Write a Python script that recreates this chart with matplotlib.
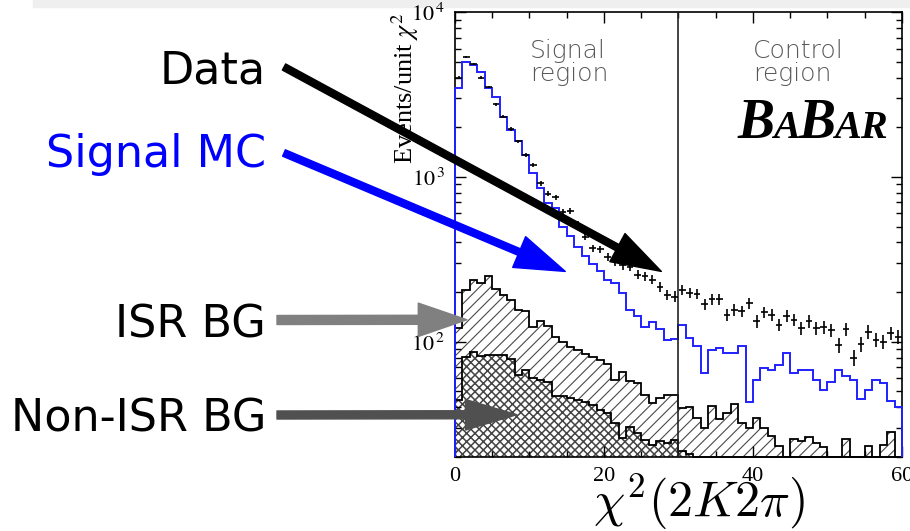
import numpy as np
import matplotlib
matplotlib.use("Agg")
import matplotlib.pyplot as plt
from matplotlib.patches import Rectangle
from matplotlib.ticker import LogLocator, NullFormatter

plt.rcParams['font.family'] = 'serif'
plt.rcParams['font.serif'] = ['Liberation Serif', 'DejaVu Serif']
plt.rcParams['mathtext.fontset'] = 'stix'

# chi2(2K2pi) distribution, 60 bins of one unit
edges = np.arange(0, 61, 1)
centres = edges[:-1] + 0.5

data_counts = [4000, 5310, 4840, 4000, 3500, 2760, 2320, 1950, 1640, 1360,
               1180, 916, 789, 753, 614, 622, 520, 433, 369, 364,
               327, 307, 291, 285, 255, 249, 238, 216, 193, 188,
               207, 197, 195, 169, 181, 181, 146, 156, 153, 172,
               133, 151, 146, 127, 144, 136, 121, 133, 121, 123,
               118, 95, 119, 80, 97, 115, 103, 100, 113, 107]

signal_mc = [3450, 5000, 4770, 4350, 3450, 3070, 2320, 1930, 1640, 1360,
             1050, 855, 693, 646, 500, 435, 378, 329, 297, 269,
             238, 228, 198, 156, 144, 123, 131, 120, 103, 104,
             127, 105, 93.7, 64.6, 88.5, 91.6, 85.4, 85.4, 94.6, 42.9,
             58.9, 69.3, 67.0, 72.5, 85.4, 64.6, 67.0, 67.0, 58.2, 50.7,
             56.6, 67.0, 62.2, 58.9, 45.2, 51.2, 58.9, 56.2, 43.5, 40.2]

isr_bg = [121, 205, 236, 228, 251, 209, 193, 179, 156, 154,
          123, 133, 125, 107, 100, 92.9, 88.5, 84.6, 80.8, 77.8,
          73.6, 58.5, 65.2, 57.5, 56.5, 47.7, 42.5, 45.6, 47.7, 47.7,
          39.6, 40.2, 34.5, 30.0, 41.0, 34.0, 37.0, 42.1, 32.2, 30.0,
          34.5, 30.0, 26.9, 23.2, 0, 25.7, 24.9, 26.4, 24.3, 23.0,
          0, 0, 25.7, 0, 0, 23.4, 0, 23.8, 28.2, 0]

non_isr_bg = [44.5, 80.5, 87.0, 81.7, 82.8, 83.4, 83.4, 78.9, 63.1, 67.6,
              60.3, 58.9, 56.6, 46.6, 46.6, 45.8, 44.5, 42.9, 41.5, 38.7,
              37.1, 32.2, 26.1, 30.4, 28.0, 25.5, 23.8, 24.9, 24.3, 25.2,
              21.6, 20.8, 0, 0, 0, 0, 0, 0, 0, 0,
              0, 0, 0, 0, 0, 0, 0, 0, 0, 0,
              0, 0, 0, 0, 0, 0, 0, 0, 0, 0]

y_min, y_max = 20, 1e4
chi2_cut = 30

fig = plt.figure(figsize=(9.1, 5.31), dpi=100)
fig.add_artist(Rectangle((33 / 910, 1 - 7 / 531), 1, 7 / 531,
                         transform=fig.transFigure, color='#efefef', zorder=0))

ax = fig.add_axes([0.5, 0.1394, 0.4912, 0.838])

isr = np.maximum(isr_bg, y_min)
nonisr = np.maximum(non_isr_bg, y_min)

# ISR background: single hatch
plt.rcParams['hatch.linewidth'] = 0.8
ax.stairs(isr, edges, baseline=y_min, fill=True, facecolor='white',
          edgecolor='#4a4a4a', hatch='///', linewidth=0, zorder=1)
ax.stairs(isr, edges, baseline=y_min, color='black', linewidth=1.3,
          zorder=1.2, clip_on=False)
# non-ISR background: dense cross hatch on top
plt.rcParams['hatch.linewidth'] = 1.1
ax.stairs(nonisr, edges, baseline=y_min, fill=True, facecolor='white',
          edgecolor='#444444', hatch='xxxx', linewidth=0, zorder=1.4)
ax.stairs(nonisr, edges, baseline=y_min, color='black', linewidth=1.3,
          zorder=1.6, clip_on=False)

ax.stairs(signal_mc, edges, baseline=y_min, color='#2020ff', linewidth=1.4,
          zorder=3, clip_on=False)

ax.errorbar(centres, data_counts, xerr=0.45, yerr=np.sqrt(data_counts),
            fmt='none', ecolor='black', elinewidth=1.2, capsize=0, zorder=4)

ax.axvline(chi2_cut, color='#222222', linewidth=1.2, zorder=3.5)

ax.set_xlim(0, 60)
ax.set_yscale('log')
ax.set_ylim(y_min, y_max)
ax.set_xticks([0, 20, 40, 60])
ax.set_xticks(np.arange(0, 61, 5), minor=True)
ax.set_yticks([100, 1000, 10000], [r'$10^{\,2}$', r'$10^{\,3}$', r'$10^{\,4}$'])
ax.yaxis.set_minor_locator(LogLocator(base=10, subs=np.arange(2, 10)))
ax.yaxis.set_minor_formatter(NullFormatter())
ax.tick_params(which='both', direction='in', top=True, right=True, width=1)
ax.tick_params(which='major', length=8, labelsize=16, pad=7)
ax.tick_params(which='minor', length=4)
for sp in ax.spines.values():
    sp.set_linewidth(1.2)

fig.text(699 / 910, 1 - 502 / 531, r'$\chi^2(2K2\pi)$', fontsize=36,
         math_fontfamily='cm', ha='center', va='center')
fig.text(405 / 910, 1 - 88 / 531, r'Events/unit $\chi^2$', fontsize=19,
         rotation=90, ha='center', va='center')

ax.text(0.168, 0.94, 'Signal\nregion', transform=ax.transAxes, ha='left',
        va='top', fontsize=18, color='#585858', family='DejaVu Sans',
        fontweight='light', linespacing=0.95)
ax.text(0.667, 0.94, 'Control\nregion', transform=ax.transAxes, ha='left',
        va='top', fontsize=18, color='#585858', family='DejaVu Sans',
        fontweight='light', linespacing=0.95)

# experiment logo, big and small capitals
logo = [('B', 40), ('A', 29), ('B', 40), ('AR', 29)]
prev = ax.text(0.631, 0.717, logo[0][0], transform=ax.transAxes,
               fontsize=logo[0][1], fontweight='bold', style='italic',
               va='baseline', zorder=5)
prev_size = logo[0][1]
for s, size in logo[1:]:
    prev = ax.annotate(s, xy=(1, 0), xycoords=prev,
                       xytext=(-1, 0.216 * (prev_size - size)),
                       textcoords='offset points', va='bottom',
                       fontsize=size, fontweight='bold', style='italic',
                       zorder=5)
    prev_size = size

# labels on the left with arrows into the plot
labels = ['Data', 'Signal MC', 'ISR BG', 'Non-ISR BG']
label_colors = ['black', '#0000ff', 'black', 'black']
label_baselines = [83, 167, 337, 432]
arrow_colors = ['black', '#0000ff', '#808080', '#505050']
arrow_starts = [(284, 67), (284, 153), (277, 320), (277, 415)]
arrow_tips = [(27.7, 267), (14.8, 267), (1.6, 136), (8.3, 36.1)]
arrow_styles = ['simple,head_length=3.6,head_width=2.3,tail_width=0.5',
                'simple,head_length=3.6,head_width=2.4,tail_width=0.5',
                'simple,head_length=3.5,head_width=2.4,tail_width=0.65',
                'simple,head_length=3.7,head_width=2.2,tail_width=0.58']

for i in range(len(labels)):
    fig.text(266 / 910, 1 - label_baselines[i] / 531, labels[i],
             fontsize=32, family='DejaVu Sans', color=label_colors[i],
             ha='right', va='baseline')
    ax.annotate('', xy=arrow_tips[i], xycoords='data',
                xytext=(arrow_starts[i][0] / 910, 1 - arrow_starts[i][1] / 531),
                textcoords='figure fraction',
                arrowprops=dict(arrowstyle=arrow_styles[i], mutation_scale=10,
                                color=arrow_colors[i], shrinkA=0, shrinkB=0),
                annotation_clip=False, zorder=6)

fig.savefig('out.png', dpi=100)
